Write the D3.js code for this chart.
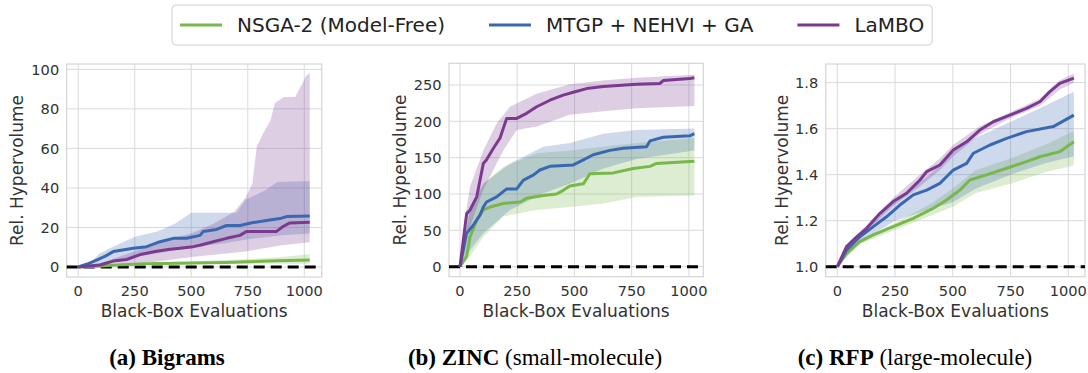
<!DOCTYPE html>
<html>
<head>
<meta charset="utf-8">
<script src="https://cdn.jsdelivr.net/npm/d3@7"></script>
<style>
  body { margin: 0; background: #fff; }
  svg { display: block; }
  text { font-family: "DejaVu Sans", sans-serif; }
</style>
</head>
<body>
<div id="chart"></div>
<script>
// series names + colors
const methods = ['NSGA-2 (Model-Free)', 'MTGP + NEHVI + GA', 'LaMBO'];
const colors = ['#78b84b', '#3a68b0', '#7b3a8f'];

// (a) Bigrams  -- [evaluations, value]
const bigramsNsga = [[0,0],[100,0.5],[200,1.2],[300,1.6],[500,2],[650,2.3],[750,2.6],[880,3.2],[1024,3.5]];
const bigramsNsgaHi = [[0,0],[100,1],[250,2],[500,2.8],[750,4],[900,5],[1024,6.5]];
const bigramsNsgaLo = [[0,0],[250,1],[500,1.4],[750,1.6],[1024,1.6]];
const bigramsMtgp = [[0,0],[40,1.5],[81,3.5],[120,5.5],[155,7.8],[244,9.5],[303,10.3],[362,12.8],[421,14.5],[480,14.5],[539,16],[553,18],[612,19],[656,21],[715,21],[774,22.5],[833,23.5],[892,24.5],[921,25.5],[1024,25.8]];
const bigramsMtgpHi = [[0,0],[60,3],[96,7],[150,10],[250,15.3],[350,18],[430,22],[500,27.5],[700,27.5],[740,34],[830,39],[880,43],[1024,43.5]];
const bigramsMtgpLo = [[0,0],[100,1],[200,4],[250,5],[400,8],[500,10],[650,12],[750,14],[900,16],[1024,17]];
const bigramsLambo = [[0,0],[96,1],[155,3],[214,3.8],[274,6.3],[347,8],[406,9],[450,9.5],[509,10.3],[539,11],[597,12.8],[656,14.5],[715,16],[744,18],[877,18],[906,20.5],[936,22.3],[1024,22.6]];
const bigramsLamboHi = [[0,0],[100,2],[200,6],[300,10],[400,14],[500,17],[600,22],[690,28],[740,35],[770,42],[790,61],[820,68],[850,74],[870,83],[910,86],[960,86],[1010,97],[1024,98]];
const bigramsLamboLo = [[0,0],[150,0],[300,2],[500,5],[750,8],[900,11],[1024,12.5]];

// (b) ZINC
const zincNsga = [[0,0],[29,14],[44,41],[73,64],[102,78],[131,82],[189,87],[262,89],[291,94],[364,98],[422,100],[451,105],[480,111],[539,114],[568,128],[670,129],[757,135],[830,138],[859,142],[1024,145]];
const zincNsgaHi = [[0,0],[44,78],[102,114],[189,137],[335,156],[480,160],[626,165],[771,170],[1024,177]];
const zincNsgaLo = [[0,0],[44,14],[102,41],[189,69],[335,78],[480,82],[626,87],[771,96],[1024,98]];
const zincMtgp = [[0,0],[29,46],[58,57],[87,71],[102,82],[116,89],[160,96],[204,107],[248,107],[277,119],[320,126],[349,133],[393,138],[495,140],[539,147],[582,154],[655,160],[713,163],[815,165],[830,173],[888,178],[1004,180],[1024,183]];
const zincMtgpHi = [[0,0],[44,82],[102,114],[218,142],[364,165],[480,170],[626,183],[771,188],[1024,190]];
const zincMtgpLo = [[0,0],[44,23],[102,46],[218,78],[364,101],[480,114],[626,135],[771,148],[1024,160]];
const zincLambo = [[0,0],[29,73],[44,78],[73,96],[102,142],[116,147],[146,163],[175,177],[204,204],[248,204],[291,211],[335,220],[393,229],[451,236],[495,240],[553,245],[626,248],[771,251],[873,252],[888,256],[1004,259],[1024,260]];
const zincLamboHi = [[0,0],[29,80],[44,110],[102,160],[160,197],[218,220],[335,238],[480,251],[626,256],[771,260],[1024,264]];
const zincLamboLo = [[0,0],[29,42],[102,106],[189,160],[248,188],[335,193],[480,209],[626,214],[771,218],[1024,221]];

// (c) RFP
const rfpNsga = [[0,1],[40,1.058],[98,1.109],[156,1.138],[242,1.174],[329,1.21],[416,1.254],[473,1.29],[531,1.333],[574,1.377],[646,1.399],[733,1.428],[819,1.457],[877,1.478],[963,1.5],[1024,1.543]];
const rfpNsgaHi = [[0,1],[100,1.12],[250,1.19],[400,1.27],[500,1.34],[600,1.42],[750,1.47],[900,1.53],[1024,1.59]];
const rfpNsgaLo = [[0,1],[100,1.10],[250,1.16],[400,1.22],[500,1.26],[600,1.32],[750,1.36],[900,1.41],[1024,1.44]];
const rfpMtgp = [[0,1],[40,1.072],[98,1.13],[156,1.174],[213,1.217],[271,1.268],[329,1.312],[387,1.333],[444,1.362],[502,1.42],[560,1.449],[589,1.493],[661,1.529],[733,1.558],[819,1.587],[935,1.609],[1024,1.659]];
const rfpMtgpHi = [[0,1],[100,1.15],[250,1.29],[400,1.40],[500,1.50],[600,1.56],[750,1.63],[900,1.70],[1024,1.76]];
const rfpMtgpLo = [[0,1],[100,1.11],[250,1.2],[400,1.25],[500,1.28],[600,1.34],[750,1.40],[900,1.45],[1024,1.48]];
const rfpLambo = [[0,1],[40,1.087],[84,1.13],[127,1.167],[185,1.232],[242,1.283],[300,1.319],[358,1.377],[387,1.413],[444,1.442],[502,1.507],[560,1.543],[617,1.594],[675,1.63],[747,1.659],[819,1.688],[877,1.717],[920,1.761],[963,1.797],[1024,1.82]];
const rfpLamboHi = [[0,1],[40,1.095],[127,1.18],[242,1.3],[358,1.4],[444,1.47],[502,1.53],[617,1.61],[747,1.67],[877,1.73],[963,1.81],[1024,1.84]];
const rfpLamboLo = [[0,1],[40,1.08],[127,1.155],[242,1.265],[358,1.35],[444,1.42],[502,1.48],[617,1.575],[747,1.645],[877,1.70],[963,1.77],[1024,1.80]];

const xTicks = [0, 250, 500, 750, 1000];
const bigramsTicks = [0, 20, 40, 60, 80, 100];
const zincTicks = [0, 50, 100, 150, 200, 250];
const rfpTicks = [1.0, 1.2, 1.4, 1.6, 1.8];

const panels = [
  { left: 66.7, right: 321.7, top: 64, bottom: 277, xDom: [-51, 1077], yDom: [-5.06, 102.7],
    yTicks: bigramsTicks, fmt: d3.format('d'), base: 0, labelX: 17,
    series: [[bigramsNsga, bigramsNsgaHi, bigramsNsgaLo], [bigramsMtgp, bigramsMtgpHi, bigramsMtgpLo], [bigramsLambo, bigramsLamboHi, bigramsLamboLo]],
    caption: [['(a) ', 'bold'], ['Bigrams', 'bold']], capX: 167 },
  { left: 449, right: 703.3, top: 63.3, bottom: 276.7, xDom: [-48, 1063], yDom: [-13.8, 279.8],
    yTicks: zincTicks, fmt: d3.format('d'), base: 0, labelX: 400,
    series: [[zincNsga, zincNsgaHi, zincNsgaLo], [zincMtgp, zincMtgpHi, zincMtgpLo], [zincLambo, zincLamboHi, zincLamboLo]],
    caption: [['(b) ', 'bold'], ['ZINC', 'bold'], [' (small-molecule)', 'normal']], capX: 535 },
  { left: 825.7, right: 1085, top: 64, bottom: 276.7, xDom: [-50.2, 1072.3], yDom: [0.9565, 1.881],
    yTicks: rfpTicks, fmt: d3.format('.1f'), base: 1, labelX: 782,
    series: [[rfpNsga, rfpNsgaHi, rfpNsgaLo], [rfpMtgp, rfpMtgpHi, rfpMtgpLo], [rfpLambo, rfpLamboHi, rfpLamboLo]],
    caption: [['(c) ', 'bold'], ['RFP', 'bold'], [' (large-molecule)', 'normal']], capX: 915 }
];

const svg = d3.select('#chart').append('svg')
  .attr('width', 1088).attr('height', 373);
svg.append('rect').attr('width', 1088).attr('height', 373).attr('fill', '#fff');

panels.forEach((p, pi) => {
  const x = d3.scaleLinear().domain(p.xDom).range([p.left, p.right]);
  const y = d3.scaleLinear().domain(p.yDom).range([p.bottom, p.top]);
  const g = svg.append('g');

  // grid
  g.selectAll('.vg').data(xTicks).join('line')
    .attr('x1', d => x(d)).attr('x2', d => x(d))
    .attr('y1', p.top).attr('y2', p.bottom)
    .attr('stroke', '#dadada').attr('stroke-width', 1);
  g.selectAll('.hg').data(p.yTicks).join('line')
    .attr('x1', p.left).attr('x2', p.right)
    .attr('y1', d => y(d)).attr('y2', d => y(d))
    .attr('stroke', '#dadada').attr('stroke-width', 1);

  // frame
  g.append('rect')
    .attr('x', p.left).attr('y', p.top)
    .attr('width', p.right - p.left).attr('height', p.bottom - p.top)
    .attr('fill', 'none').attr('stroke', '#d4d4d4').attr('stroke-width', 1.2);

  // tick labels
  g.selectAll('.xt').data(xTicks).join('text')
    .attr('x', d => x(d)).attr('y', 296)
    .attr('text-anchor', 'middle').attr('font-size', 14.6).attr('fill', '#333')
    .text(d => d);
  g.selectAll('.yt').data(p.yTicks).join('text')
    .attr('x', p.left - 7.5).attr('y', d => y(d) + 5.3)
    .attr('text-anchor', 'end').attr('font-size', 14.6).attr('fill', '#333')
    .text(d => p.fmt(d));

  const line = d3.line().x(d => x(d[0])).y(d => y(d[1]));

  // confidence bands
  p.series.forEach((s, i) => {
    const poly = s[1].concat(s[2].slice().reverse());
    g.append('path').attr('d', line(poly) + 'Z')
      .attr('fill', colors[i]).attr('fill-opacity', 0.25).attr('stroke', 'none');
  });

  // reference line
  g.append('line')
    .attr('x1', p.left).attr('x2', p.right)
    .attr('y1', y(p.base)).attr('y2', y(p.base))
    .attr('stroke', '#000').attr('stroke-width', 3).attr('stroke-dasharray', '11,6');

  // mean lines
  p.series.forEach((s, i) => {
    g.append('path').attr('d', line(s[0]))
      .attr('fill', 'none').attr('stroke', colors[i]).attr('stroke-width', 3)
      .attr('stroke-linejoin', 'round');
  });

  // axis labels
  g.append('text')
    .attr('transform', `translate(${p.labelX + 6},${(p.top + p.bottom) / 2}) rotate(-90)`)
    .attr('text-anchor', 'middle').attr('font-size', 17).attr('fill', '#333')
    .text('Rel. Hypervolume');
  g.append('text')
    .attr('x', (p.left + p.right) / 2).attr('y', 317)
    .attr('text-anchor', 'middle').attr('font-size', 17).attr('fill', '#333')
    .text('Black-Box Evaluations');

  // caption
  const cap = g.append('text')
    .attr('x', p.capX).attr('y', 365)
    .attr('text-anchor', 'middle')
    .style('font-family', '"Liberation Serif", "Times New Roman", serif')
    .attr('font-size', 23).attr('fill', '#000');
  p.caption.forEach(c => cap.append('tspan').attr('font-weight', c[1]).text(c[0]));
});

// legend
const leg = svg.append('g');
const legBox = leg.append('rect');
let cx = 180;
methods.forEach((m, i) => {
  leg.append('line')
    .attr('x1', cx).attr('x2', cx + 42).attr('y1', 25).attr('y2', 25)
    .attr('stroke', colors[i]).attr('stroke-width', 3);
  const t = leg.append('text')
    .attr('x', cx + 57).attr('y', 32)
    .attr('font-size', 20).attr('fill', '#222')
    .text(m);
  cx = cx + 57 + t.node().getComputedTextLength() + 44;
});
legBox.attr('x', 172).attr('y', 5).attr('width', cx - 44 + 8 - 172).attr('height', 40)
  .attr('rx', 4).attr('fill', '#fff').attr('stroke', '#d0d0d0').attr('stroke-width', 1);
</script>
</body>
</html>
